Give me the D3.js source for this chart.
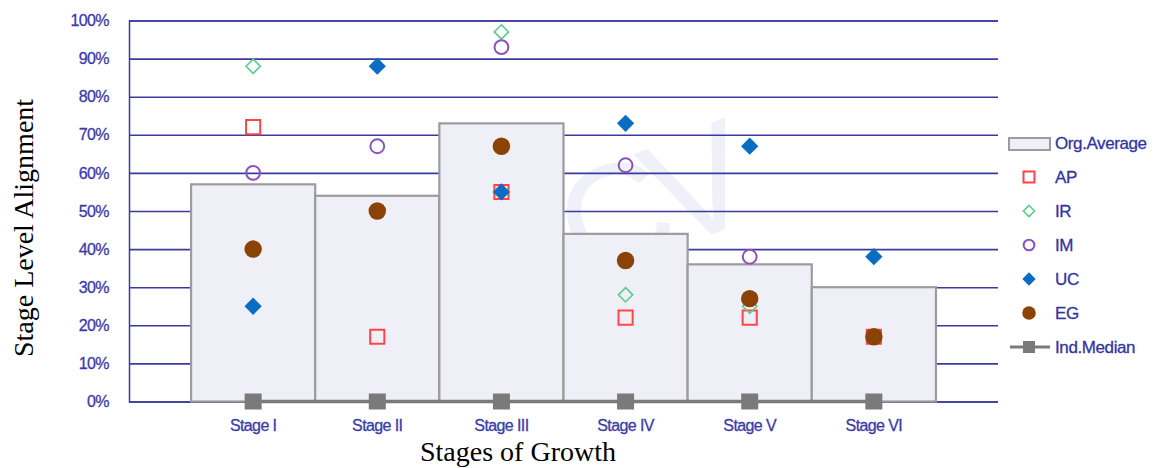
<!DOCTYPE html>
<html>
<head>
<meta charset="utf-8">
<script src="https://cdn.jsdelivr.net/npm/d3@7"></script>
<style>
  html, body { margin: 0; padding: 0; background: #ffffff; }
  svg { display: block; }
</style>
</head>
<body>
<svg id="chart" width="1174" height="468"></svg>
<script>
// Stages of growth and the alignment scores (percent) per stage
const stages = ["Stage I", "Stage II", "Stage III", "Stage IV", "Stage V", "Stage VI"];
const orgAverage = [57, 54, 73, 44, 36, 30];
const apValues = [72, 17, 55, 22, 22, 17];
const irValues = [88, null, 97, 28, 25, null];
const imValues = [60, 67, 93, 62, 38, null];
const ucValues = [25, 88, 55, 73, 67, 38];
const egValues = [40, 50, 67, 37, 27, 17];
const indMedian = [0, 0, 0, 0, 0, 0];
const yTicks = [0, 10, 20, 30, 40, 50, 60, 70, 80, 90, 100];

const svg = d3.select("#chart");
const plot = { left: 129, right: 998, top: 20.5, bottom: 401.5 };
const axisBlue = "#3a3aa0";
const textBlue = "#3b3ba8";

const x = d3.scaleBand().domain(stages)
  .range([plot.left, plot.right]).paddingInner(0).paddingOuter(0.5);
const y = d3.scaleLinear().domain([0, 100]).range([plot.bottom, plot.top]);

// Faint background watermark
svg.append("text")
  .attr("transform", "translate(668,252) rotate(-22)")
  .attr("text-anchor", "middle")
  .attr("letter-spacing", "-14px")
  .style("font-family", "Liberation Sans, Arial, sans-serif")
  .style("font-size", "150px")
  .style("fill", "#eff0f8")
  .text("CV");

// Gridlines and y axis
const yAxis = d3.axisLeft(y).tickValues(yTicks)
  .tickSize(-(plot.right - plot.left)).tickPadding(20)
  .tickFormat(d => d + "%");
const gy = svg.append("g").attr("transform", `translate(${plot.left},0)`).call(yAxis);
gy.select(".domain").attr("stroke", axisBlue).attr("stroke-width", 1.5);
gy.selectAll(".tick line").attr("stroke", axisBlue).attr("stroke-width", 1.6);
gy.selectAll(".tick text")
  .attr("x", -20)
  .style("font-family", "Liberation Sans, Arial, sans-serif")
  .style("font-size", "16px")
  .style("letter-spacing", "-0.6px")
  .style("fill", textBlue)
  .style("stroke", textBlue)
  .style("stroke-width", "0.3px");

// Organisation average bars
svg.append("g").selectAll("rect").data(stages).join("rect")
  .attr("x", d => x(d))
  .attr("y", (d, i) => y(orgAverage[i]))
  .attr("width", x.bandwidth())
  .attr("height", (d, i) => y(0) - y(orgAverage[i]))
  .attr("fill", "#efeff8")
  .attr("stroke", "#9c9c9c")
  .attr("stroke-width", 2.2);

// Industry median line with square markers
const cx = d => x(d) + x.bandwidth() / 2;
svg.append("path")
  .datum(stages)
  .attr("d", d3.line().x(d => cx(d)).y((d, i) => y(indMedian[i])))
  .attr("fill", "none").attr("stroke", "#7a7a7a").attr("stroke-width", 3.5);
svg.append("g").selectAll("rect").data(stages).join("rect")
  .attr("x", d => cx(d) - 8.5).attr("y", (d, i) => y(indMedian[i]) - 8)
  .attr("width", 17).attr("height", 16)
  .attr("fill", "#7a7a7a");

// Point series
const series = [
  { name: "AP", values: apValues, shape: d3.symbolSquare, size: 200, fill: "none", stroke: "#ff4545", sw: 2 },
  { name: "IR", values: irValues, shape: d3.symbolDiamond2, size: 130, fill: "none", stroke: "#5ccc8a", sw: 1.6 },
  { name: "IM", values: imValues, shape: d3.symbolCircle, size: 150, fill: "none", stroke: "#8a52bc", sw: 2 },
  { name: "UC", values: ucValues, shape: d3.symbolDiamond2, size: 190, fill: "#0a6cc2", stroke: "none", sw: 0 },
  { name: "EG", values: egValues, shape: d3.symbolCircle, size: 240, fill: "#8a4304", stroke: "none", sw: 0 }
];

series.forEach(s => {
  const pts = stages.map((st, i) => ({ st, v: s.values[i] })).filter(p => p.v !== null);
  svg.append("g").selectAll("path").data(pts).join("path")
    .attr("transform", p => `translate(${cx(p.st)},${y(p.v)})`)
    .attr("d", d3.symbol().type(s.shape).size(s.size))
    .attr("fill", s.fill)
    .attr("stroke", s.stroke)
    .attr("stroke-width", s.sw);
});

// X axis labels
svg.append("g").selectAll("text").data(stages).join("text")
  .attr("x", d => cx(d)).attr("y", 431)
  .attr("text-anchor", "middle")
  .style("font-family", "Liberation Sans, Arial, sans-serif")
  .style("font-size", "16px")
  .style("letter-spacing", "-0.6px")
  .style("fill", textBlue)
  .style("stroke", textBlue)
  .style("stroke-width", "0.3px")
  .text(d => d);

// Axis titles
svg.append("text")
  .attr("x", 518).attr("y", 461)
  .attr("text-anchor", "middle")
  .style("font-family", "Liberation Serif, Times New Roman, serif")
  .style("font-size", "28px")
  .style("fill", "#000")
  .text("Stages of Growth");
svg.append("text")
  .attr("transform", "translate(33,228) rotate(-90)")
  .attr("text-anchor", "middle")
  .style("font-family", "Liberation Serif, Times New Roman, serif")
  .style("font-size", "28px")
  .style("fill", "#000")
  .text("Stage Level Alignment");

// Legend
const legend = svg.append("g");
const lx = 1029, textX = 1055, ly0 = 143, lstep = 34;
const legendFont = g => g
  .style("font-family", "Liberation Sans, Arial, sans-serif")
  .style("font-size", "17px")
  .style("letter-spacing", "-0.4px")
  .style("fill", "#34349e")
  .style("stroke", "#34349e")
  .style("stroke-width", "0.3px");

legend.append("rect")
  .attr("x", 1009).attr("y", ly0 - 5).attr("width", 41).attr("height", 12)
  .attr("fill", "#efeff8").attr("stroke", "#9c9c9c").attr("stroke-width", 2);
legend.append("text").attr("x", textX).attr("y", ly0 + 6).text("Org.Average").call(legendFont);

series.forEach((s, i) => {
  const ly = ly0 + lstep * (i + 1);
  legend.append("path")
    .attr("transform", `translate(${lx},${ly})`)
    .attr("d", d3.symbol().type(s.shape).size(s.size * 0.6))
    .attr("fill", s.fill).attr("stroke", s.stroke).attr("stroke-width", s.sw);
  legend.append("text").attr("x", textX).attr("y", ly + 6).text(s.name).call(legendFont);
});

const lyM = ly0 + lstep * 6;
legend.append("line")
  .attr("x1", 1010).attr("x2", 1050).attr("y1", lyM).attr("y2", lyM)
  .attr("stroke", "#7a7a7a").attr("stroke-width", 3);
legend.append("rect")
  .attr("x", lx - 6).attr("y", lyM - 6).attr("width", 12).attr("height", 12)
  .attr("fill", "#7a7a7a");
legend.append("text").attr("x", textX).attr("y", lyM + 6).text("Ind.Median").call(legendFont);
</script>
</body>
</html>
